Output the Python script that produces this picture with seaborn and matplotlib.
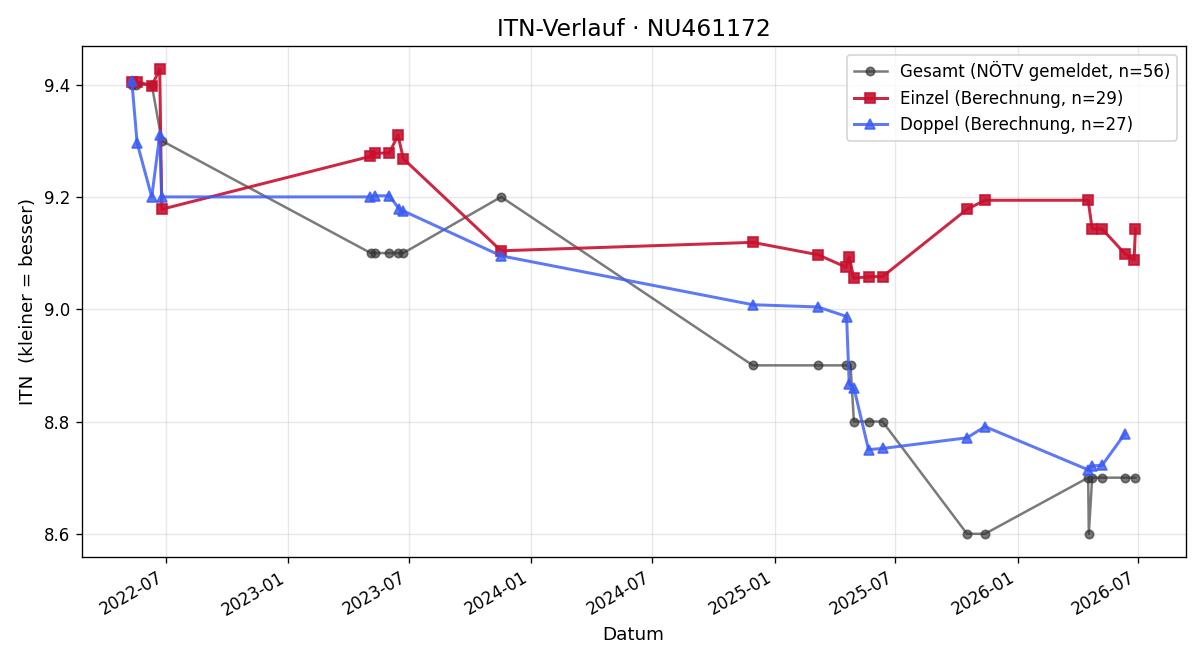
import numpy as np
import pandas as pd
import matplotlib
matplotlib.use("Agg")
import matplotlib.pyplot as plt
import matplotlib.dates as mdates
import seaborn as sns

# Gesamt (NÖTV gemeldet)
gesamt_dates = ["2022-05-11", "2022-05-18", "2022-06-10", "2022-06-25",
                "2023-05-05", "2023-05-11", "2023-06-02", "2023-06-15", "2023-06-23",
                "2023-11-17", "2024-11-29", "2025-03-07", "2025-04-18", "2025-04-25",
                "2025-04-30", "2025-05-22", "2025-06-12", "2025-10-17", "2025-11-13",
                "2026-04-17", "2026-04-18", "2026-04-23", "2026-05-08", "2026-06-11",
                "2026-06-27"]
gesamt_itn = [9.4, 9.4, 9.4, 9.3,
              9.1, 9.1, 9.1, 9.1, 9.1,
              9.2, 8.9, 8.9, 8.9, 8.9,
              8.8, 8.8, 8.8, 8.6, 8.6,
              8.7, 8.6, 8.7, 8.7, 8.7,
              8.7]

# Einzel (Berechnung)
einzel_dates = ["2022-05-11", "2022-05-19", "2022-06-10", "2022-06-22", "2022-06-25",
                "2023-05-04", "2023-05-11", "2023-06-02", "2023-06-15", "2023-06-23",
                "2023-11-17", "2024-11-29", "2025-03-07", "2025-04-18", "2025-04-23",
                "2025-04-30", "2025-05-22", "2025-06-12", "2025-10-17", "2025-11-13",
                "2026-04-17", "2026-04-23", "2026-05-08", "2026-06-11", "2026-06-25",
                "2026-06-27"]
einzel_itn = [9.405, 9.405, 9.398, 9.427, 9.178,
              9.272, 9.278, 9.278, 9.310, 9.268,
              9.104, 9.119, 9.097, 9.075, 9.093,
              9.055, 9.058, 9.058, 9.178, 9.194,
              9.194, 9.143, 9.143, 9.099, 9.088,
              9.143]

# Doppel (Berechnung)
doppel_dates = ["2022-05-11", "2022-05-19", "2022-06-10", "2022-06-22", "2022-06-25",
                "2023-05-04", "2023-05-11", "2023-06-02", "2023-06-17", "2023-06-23",
                "2023-11-17", "2024-11-29", "2025-03-07", "2025-04-19", "2025-04-23",
                "2025-04-30", "2025-05-22", "2025-06-12", "2025-10-17", "2025-11-13",
                "2026-04-17", "2026-04-23", "2026-05-08", "2026-06-11"]
doppel_itn = [9.407, 9.296, 9.200, 9.310, 9.200,
              9.200, 9.202, 9.202, 9.178, 9.175,
              9.095, 9.008, 9.004, 8.987, 8.866,
              8.860, 8.750, 8.752, 8.771, 8.791,
              8.714, 8.721, 8.722, 8.778]

fig, ax = plt.subplots(figsize=(10, 5.5), dpi=120)

sns.lineplot(x=pd.to_datetime(gesamt_dates), y=gesamt_itn, ax=ax, estimator=None, sort=False,
             color="#333333", alpha=0.65, marker="o", markersize=5,
             markeredgecolor="#333333", markeredgewidth=1,
             linewidth=1.5, label="Gesamt (NÖTV gemeldet, n=56)")
sns.lineplot(x=pd.to_datetime(einzel_dates), y=einzel_itn, ax=ax, estimator=None, sort=False,
             color="#c8102e", alpha=0.9, marker="s", markersize=6,
             markeredgecolor="#c8102e", markeredgewidth=1,
             linewidth=1.8, label="Einzel (Berechnung, n=29)")
sns.lineplot(x=pd.to_datetime(doppel_dates), y=doppel_itn, ax=ax, estimator=None, sort=False,
             color="#3a5cf5", alpha=0.82, marker="^", markersize=6,
             markeredgecolor="#3a5cf5", markeredgewidth=1,
             linewidth=1.8, label="Doppel (Berechnung, n=27)")

ax.xaxis.set_major_locator(mdates.MonthLocator(bymonth=[1, 7]))
ax.xaxis.set_major_formatter(mdates.DateFormatter("%Y-%m"))
fig.autofmt_xdate()

ax.set_title("ITN-Verlauf · NU461172", fontsize=14)
ax.set_xlabel("Datum", fontsize=11)
ax.set_ylabel("ITN  (kleiner = besser)", fontsize=11)
ax.grid(True, alpha=0.3)
ax.legend(loc="upper right", fontsize=10)

plt.subplots_adjust(left=0.068, right=0.988, top=0.93, bottom=0.156)
plt.savefig("out.png")
